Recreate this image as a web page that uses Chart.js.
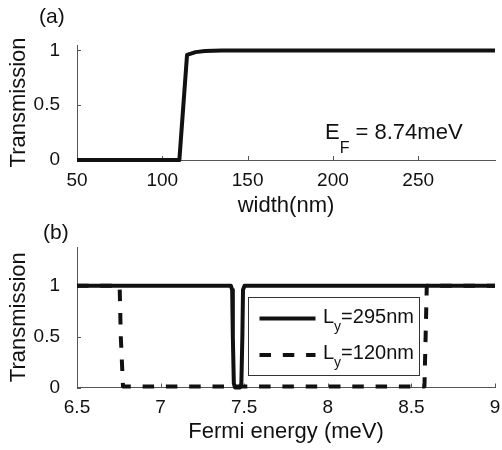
<!DOCTYPE html>
<html>
<head>
<meta charset="utf-8">
<script src="https://cdn.jsdelivr.net/npm/chart.js@4.4.0/dist/chart.umd.min.js"></script>
<style>
  html, body { margin: 0; padding: 0; background: #fff; }
  #wrap { position: relative; width: 502px; height: 450px; overflow: hidden; }
  .panel { position: absolute; left: 0; width: 502px; }
  #panelA { top: 0; height: 225px; }
  #panelB { top: 215px; height: 235px; }
</style>
</head>
<body>
<div id="wrap">
  <div class="panel" id="panelA"><canvas id="chartA"></canvas></div>
  <div class="panel" id="panelB"><canvas id="chartB"></canvas></div>
</div>
<script>
// (a) transmission vs ribbon width, E_F = 8.74 meV
const widthNm = [50, 70, 90, 100, 110, 114.5, 119.5, 125, 135, 150, 200, 250, 295];
const transWidth = [0, 0, 0, 0, 0, 0.96, 0.985, 0.995, 1, 1, 1, 1, 1];
const widthTicks = [50, 100, 150, 200, 250];

// (b) transmission vs Fermi energy for two widths
const energy295 = [6.5, 7.0, 7.42, 7.428, 7.432, 7.438, 7.445, 7.475, 7.483, 7.489, 7.493, 7.502, 8.0, 8.5, 9.0];
const trans295 = [1, 1, 1, 0.96, 0.5, 0.04, 0, 0, 0.04, 0.5, 0.96, 1, 1, 1, 1];
const energy120 = [6.5, 6.755, 6.762, 6.775, 8.578, 8.585, 8.592, 9.0];
const trans120 = [1, 1, 0.5, 0.01, 0.01, 0.5, 1, 1];
const energyTicks = [6.5, 7, 7.5, 8, 8.5, 9];

const transTicks = [0, 0.5, 1];
const legendLabels = [['L', 'y', '=295nm'], ['L', 'y', '=120nm']];

const FAMILY = '"Liberation Sans", Arial, Helvetica, sans-serif';
const INK = '#111';
Chart.defaults.font.family = FAMILY;
Chart.defaults.color = INK;

function toPoints(xs, ys) {
    return xs.map((x, i) => ({ x: x, y: ys[i] }));
}

// matlab prints 1 not 1.0
function plainTick(v) {
    return String(+Number(v).toFixed(3));
}

// text with a subscript part: base, sub, rest
function drawSubText(ctx, x, y, parts, size, subSize, drop) {
    ctx.font = size + 'px ' + FAMILY;
    ctx.fillText(parts[0], x, y);
    x += ctx.measureText(parts[0]).width;
    ctx.font = subSize + 'px ' + FAMILY;
    ctx.fillText(parts[1], x, y + drop);
    x += ctx.measureText(parts[1]).width;
    ctx.font = size + 'px ' + FAMILY;
    ctx.fillText(parts[2], x, y);
}

// matlab style ticks pointing into the axes
const inwardTicks = {
    id: 'inwardTicks',
    beforeDatasetsDraw(chart) {
        const { ctx, chartArea: ca, scales: { x, y } } = chart;
        ctx.save();
        ctx.strokeStyle = '#555';
        ctx.lineWidth = 1;
        ctx.beginPath();
        x.ticks.forEach(t => {
            const px = Math.round(x.getPixelForValue(t.value)) + 0.5;
            ctx.moveTo(px, ca.bottom);
            ctx.lineTo(px, ca.bottom - 4);
        });
        y.ticks.forEach(t => {
            const py = Math.round(y.getPixelForValue(t.value)) + 0.5;
            ctx.moveTo(ca.left, py);
            ctx.lineTo(ca.left + 4, py);
        });
        ctx.stroke();
        ctx.restore();
    }
};

function panelLabel(text, x, y) {
    return {
        id: 'panelLabel',
        afterDraw(chart) {
            const ctx = chart.ctx;
            ctx.save();
            ctx.fillStyle = INK;
            ctx.textBaseline = 'alphabetic';
            ctx.textAlign = 'left';
            ctx.font = '21px ' + FAMILY;
            ctx.fillText(text, x, y);
            ctx.restore();
        }
    };
}

const fermiNote = {
    id: 'fermiNote',
    afterDraw(chart) {
        const { ctx, chartArea: ca } = chart;
        ctx.save();
        ctx.fillStyle = INK;
        ctx.textBaseline = 'alphabetic';
        ctx.textAlign = 'left';
        drawSubText(ctx, ca.left + 248, ca.top + 94, ['E', 'F', ' = 8.74meV'], 22, 16, 14);
        ctx.restore();
    }
};

const boxLegend = {
    id: 'boxLegend',
    afterDraw(chart) {
        const { ctx, chartArea: ca } = chart;
        const bx = ca.left + 171, by = ca.top + 50, bw = 171, bh = 78;
        ctx.save();
        ctx.fillStyle = '#fff';
        ctx.fillRect(bx, by, bw, bh);
        ctx.strokeStyle = '#333';
        ctx.lineWidth = 1;
        ctx.strokeRect(Math.round(bx) + 0.5, Math.round(by) + 0.5, bw, bh);
        const rows = [by + 21.5, by + 58];
        chart.data.datasets.forEach((ds, i) => {
            const ry = rows[i];
            ctx.strokeStyle = ds.borderColor;
            ctx.lineWidth = ds.borderWidth;
            ctx.setLineDash(ds.borderDash || []);
            ctx.beginPath();
            ctx.moveTo(bx + 11.5, ry);
            ctx.lineTo(bx + 67.5, ry);
            ctx.stroke();
            ctx.setLineDash([]);
            ctx.fillStyle = INK;
            ctx.textBaseline = 'alphabetic';
            ctx.textAlign = 'left';
            drawSubText(ctx, bx + 75, ry + 4, legendLabels[i], 20, 14, 8);
        });
        ctx.restore();
    }
};

function makeScales(o) {
    return {
        x: {
            type: 'linear',
            min: o.xMin,
            max: o.xMax,
            afterBuildTicks: s => { s.ticks = o.xTicks.map(v => ({ value: v })); },
            afterFit: s => { s.height = o.xHeight; },
            grid: { display: false },
            border: { display: true, color: '#555', width: 1 },
            ticks: { padding: 1, font: { size: 19 }, color: INK, maxRotation: 0, autoSkip: false,
                     callback: plainTick },
            title: { display: true, text: o.xTitle, font: { size: 22 }, color: INK,
                     padding: { top: 0, bottom: o.xTitlePad } }
        },
        y: {
            type: 'linear',
            min: 0,
            max: o.yMax,
            afterBuildTicks: s => { s.ticks = transTicks.map(v => ({ value: v })); },
            afterFit: s => { s.width = 77; },
            grid: { display: false },
            border: { display: true, color: '#555', width: 1 },
            ticks: { padding: 9, font: { size: 19 }, color: INK, autoSkip: false,
                     callback: plainTick },
            title: { display: true, text: 'Transmission', font: { size: 22 }, color: INK,
                     padding: { top: 6, bottom: 0 } }
        }
    };
}

const lineStyle = {
    borderColor: INK,
    borderWidth: 4,
    pointRadius: 0,
    fill: false,
    tension: 0,
    clip: false,
    borderJoinStyle: 'round'
};

const commonOptions = {
    responsive: true,
    maintainAspectRatio: false,
    animation: false,
    events: [],
    plugins: { legend: { display: false }, tooltip: { enabled: false } }
};

new Chart(document.getElementById('chartA').getContext('2d'), {
    type: 'line',
    data: {
        datasets: [Object.assign({ label: 'a', data: toPoints(widthNm, transWidth) }, lineStyle)]
    },
    options: Object.assign({}, commonOptions, {
        layout: { padding: { top: 45, right: 7, left: 0, bottom: 0 } },
        scales: makeScales({ xMin: 50, xMax: 295, yMax: 1.05, xTicks: widthTicks,
                             xTitle: 'width(nm)', xTitlePad: 6, xHeight: 65 })
    }),
    plugins: [inwardTicks, fermiNote, panelLabel('(a)', 39, 23)]
});

new Chart(document.getElementById('chartB').getContext('2d'), {
    type: 'line',
    data: {
        datasets: [
            Object.assign({ label: 'Ly=295nm', data: toPoints(energy295, trans295) }, lineStyle),
            Object.assign({ label: 'Ly=120nm', data: toPoints(energy120, trans120) }, lineStyle,
                          { borderDash: [11.5, 11.8] })
        ]
    },
    options: Object.assign({}, commonOptions, {
        layout: { padding: { top: 32, right: 7, left: 0, bottom: 0 } },
        scales: makeScales({ xMin: 6.5, xMax: 9, yMax: 1.38, xTicks: energyTicks,
                             xTitle: 'Fermi energy (meV)', xTitlePad: 5, xHeight: 62.5 })
    }),
    plugins: [inwardTicks, boxLegend, panelLabel('(b)', 43, 24)]
});
</script>
</body>
</html>
